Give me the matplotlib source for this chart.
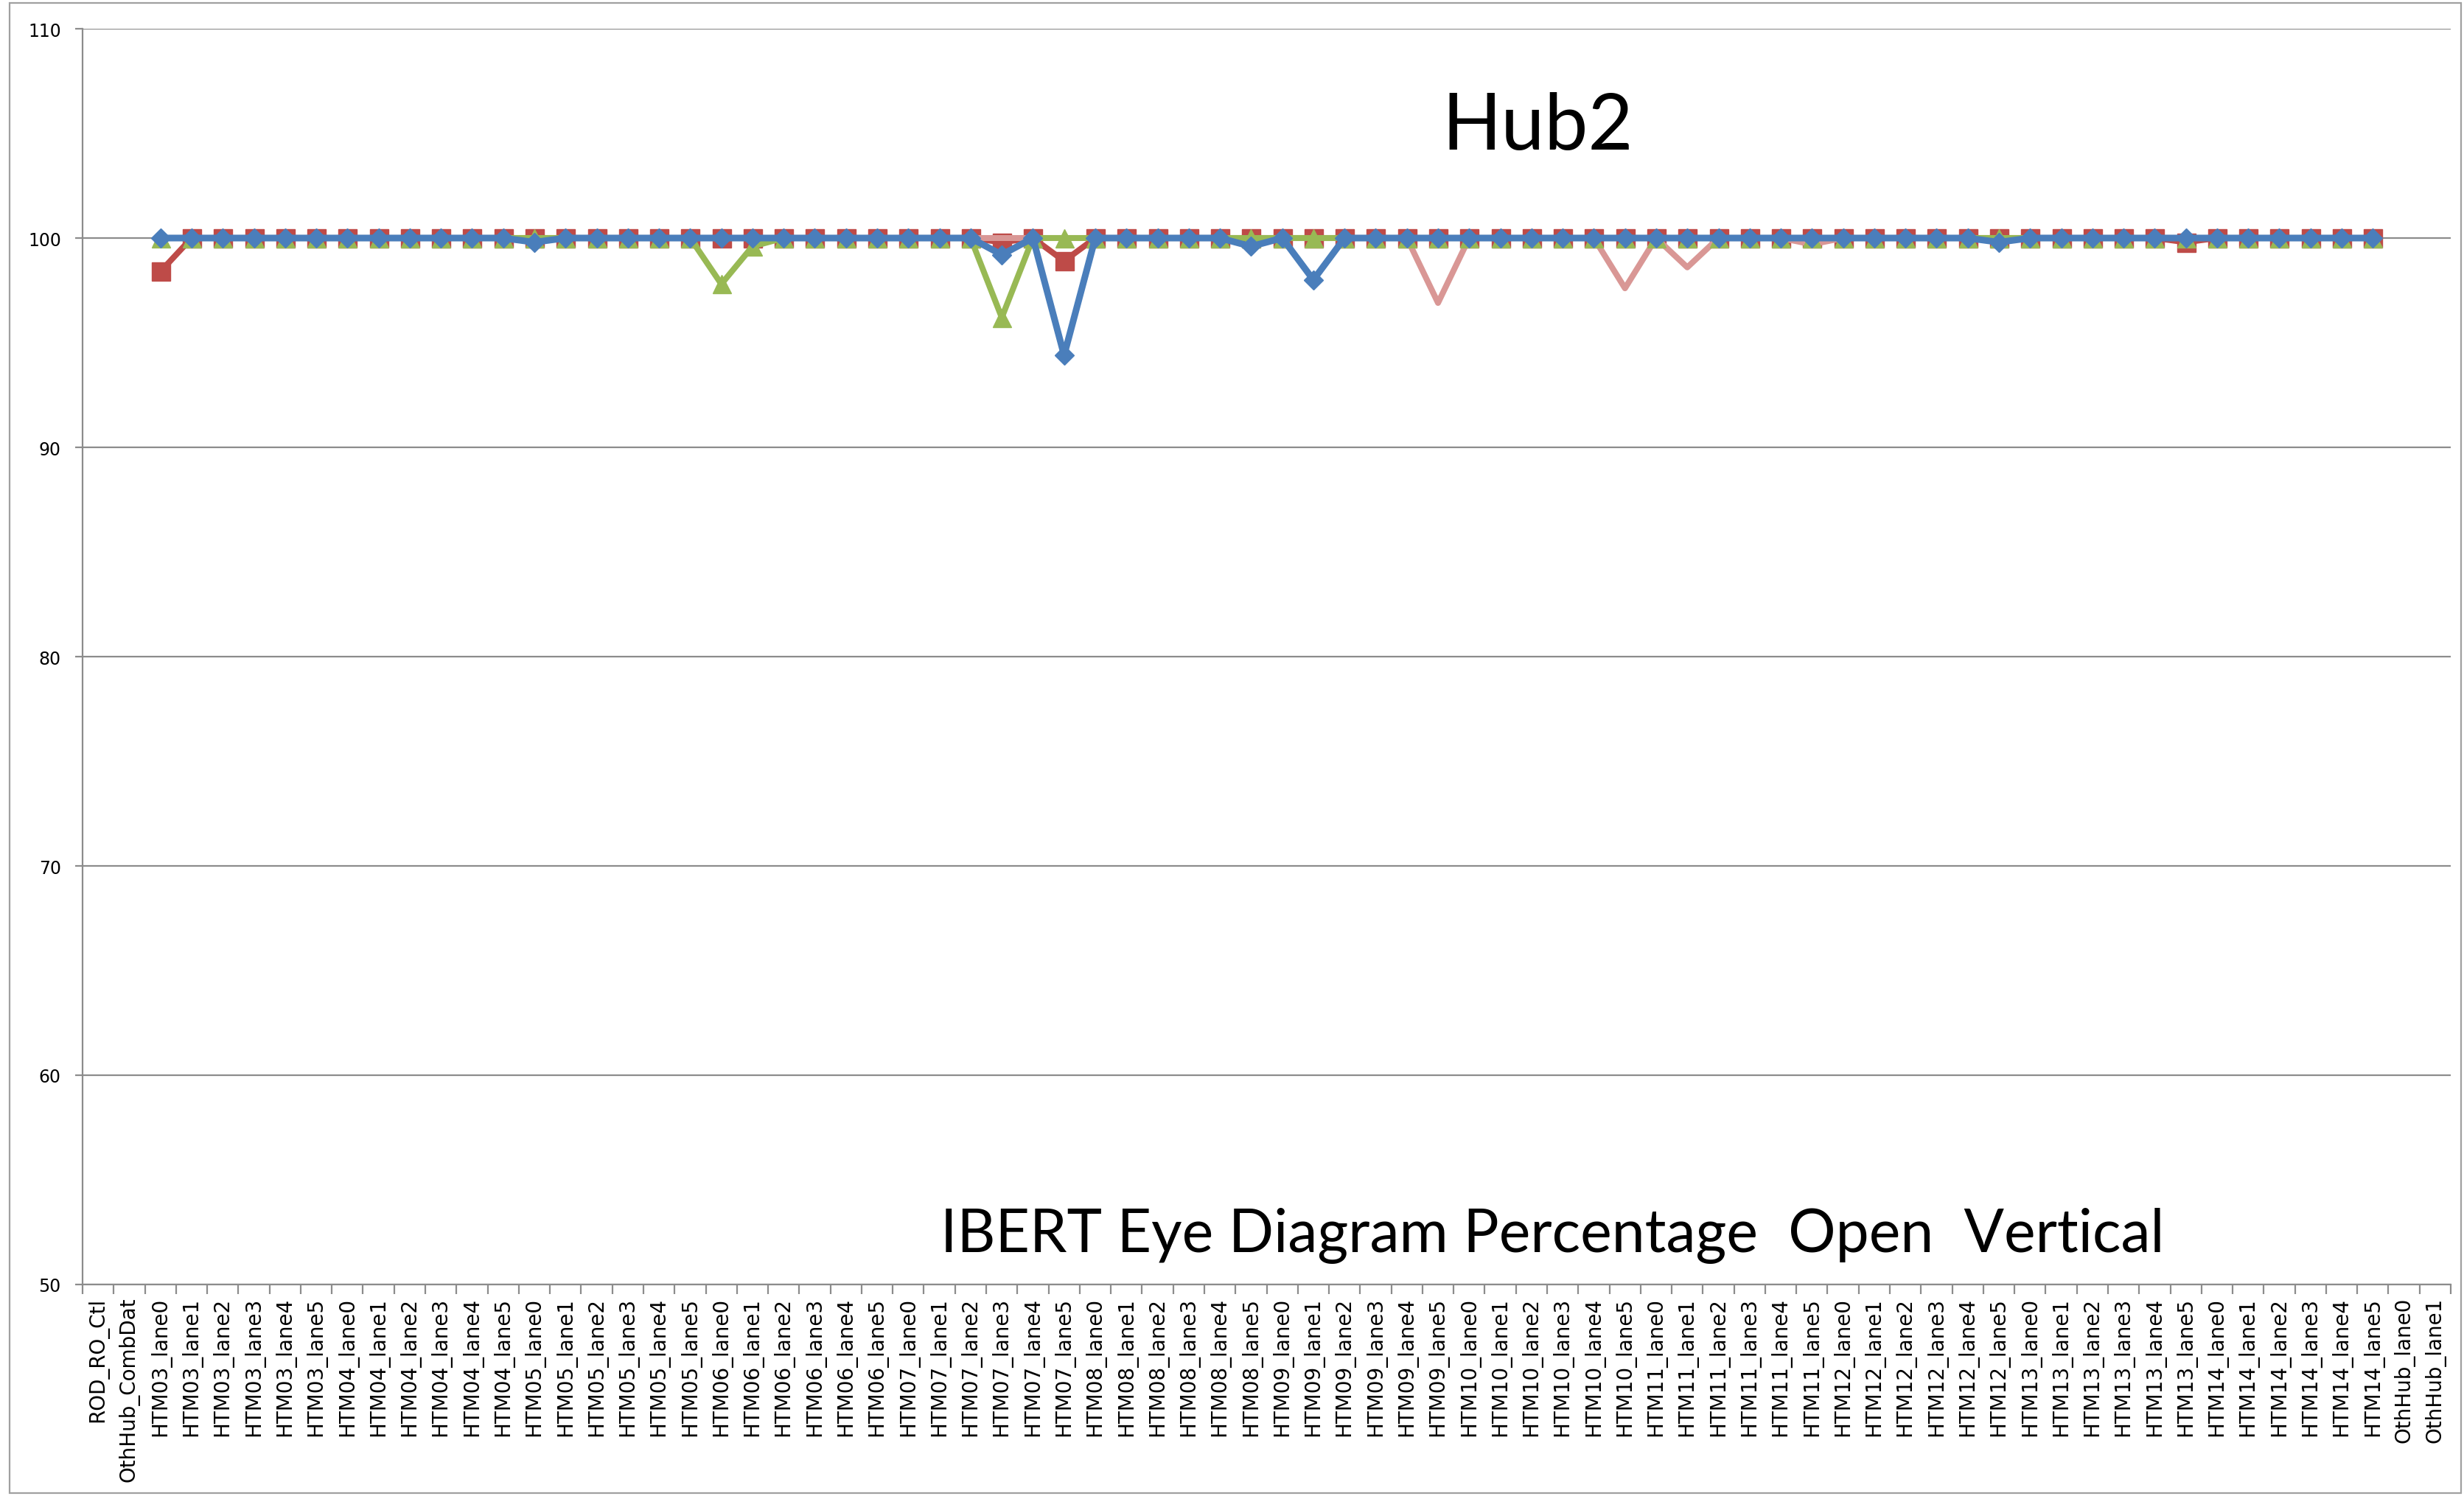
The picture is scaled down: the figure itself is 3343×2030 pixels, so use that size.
import numpy as np
import matplotlib.pyplot as plt
from matplotlib.patches import Rectangle

# category labels
modules = ["HTM03", "HTM04", "HTM05", "HTM06", "HTM07", "HTM08",
           "HTM09", "HTM10", "HTM11", "HTM12", "HTM13", "HTM14"]
lanes = ["lane0", "lane1", "lane2", "lane3", "lane4", "lane5"]
categories = (["ROD_RO_Ctl", "OthHub_CombDat"]
              + [m + "_" + l for m in modules for l in lanes]
              + ["OthHub_lane0", "OthHub_lane1"])

nan = np.nan
# one row per module (lane0..lane5), empty slots for the non-HTM categories
blue = [nan, nan,
        100, 100, 100, 100, 100, 100,
        100, 100, 100, 100, 100, 100,
        99.8, 100, 100, 100, 100, 100,
        100, 100, 100, 100, 100, 100,
        100, 100, 100, 99.2, 100, 94.4,
        100, 100, 100, 100, 100, 99.6,
        100, 98.0, 100, 100, 100, 100,
        100, 100, 100, 100, 100, 100,
        100, 100, 100, 100, 100, 100,
        100, 100, 100, 100, 100, 99.8,
        100, 100, 100, 100, 100, 100,
        100, 100, 100, 100, 100, 100,
        nan, nan]
red = [nan, nan,
       98.4, 100, 100, 100, 100, 100,
       100, 100, 100, 100, 100, 100,
       100, 100, 100, 100, 100, 100,
       100, 100, 100, 100, 100, 100,
       100, 100, 100, 99.8, 100, 98.9,
       100, 100, 100, 100, 100, 100,
       100, 100, 100, 100, 100, 100,
       100, 100, 100, 100, 100, 100,
       100, 100, 100, 100, 100, 100,
       100, 100, 100, 100, 100, 100,
       100, 100, 100, 100, 100, 99.8,
       100, 100, 100, 100, 100, 100,
       nan, nan]
green = [nan, nan,
         100, 100, 100, 100, 100, 100,
         100, 100, 100, 100, 100, 100,
         100, 100, 100, 100, 100, 100,
         97.8, 99.6, 100, 100, 100, 100,
         100, 100, 100, 96.2, 100, 100,
         100, 100, 100, 100, 100, 100,
         100, 100, 100, 100, 100, 100,
         100, 100, 100, 100, 100, 100,
         100, 100, 100, 100, 100, 100,
         100, 100, 100, 100, 100, 100,
         100, 100, 100, 100, 100, 100,
         100, 100, 100, 100, 100, 100,
         nan, nan]
pink = [nan, nan,
        100, 100, 100, 100, 100, 100,
        100, 100, 100, 100, 100, 100,
        100, 100, 100, 100, 100, 100,
        100, 100, 100, 100, 100, 100,
        100, 100, 100, 100, 100, 100,
        100, 100, 100, 100, 100, 100,
        100, 100, 100, 100, 100, 96.9,
        100, 100, 100, 100, 100, 97.6,
        100, 98.6, 100, 100, 100, 99.7,
        100, 100, 100, 100, 100, 100,
        100, 100, 100, 100, 100, 100,
        100, 100, 100, 100, 100, 100,
        nan, nan]

W, H = 3343, 2031
fig = plt.figure(figsize=(W / 100, H / 100), dpi=100)
ax = fig.add_axes([112 / W, 1 - 1744 / H, (3325 - 112) / W, (1744 - 40) / H])

x = np.arange(len(categories))
ax.plot(x, red, color="#BE4B48", lw=5.8, marker="s", ms=18, mec="#BE4B48", zorder=3)
ax.plot(x, pink, color="#D99795", lw=5.8, zorder=4)
ax.plot(x, green, color="#98B954", lw=5.8, marker="^", ms=18, mec="#98B954", zorder=5)
ax.plot(x, blue, color="#4A7EBB", lw=6.5, marker="D", ms=13.5, mec="#4A7EBB", zorder=6)

ax.set_xlim(-0.5, len(categories) - 0.5)
ax.set_ylim(50, 110)
ax.set_yticks(range(50, 111, 10))
ax.yaxis.grid(True, color="#8c8c8c", lw=1.6, zorder=0)
ax.set_axisbelow(True)

ax.set_xticks(np.arange(-0.5, len(categories), 1))
ax.set_xticklabels([])
ax.set_xticks(x, minor=True)
ax.set_xticklabels(categories, minor=True, rotation=90, fontsize=20)
ax.tick_params(axis="x", which="major", length=9.5, width=1.6, color="#8c8c8c", direction="out")
ax.tick_params(axis="x", which="minor", length=0, pad=12)
ax.tick_params(axis="y", length=7, width=1.6, color="#8c8c8c", pad=14, labelsize=17)

for s in ["top", "right"]:
    ax.spines[s].set_visible(False)
for s in ["left", "bottom"]:
    ax.spines[s].set_color("#8c8c8c")
    ax.spines[s].set_linewidth(1.6)

fig.text(2086 / W, 1 - 203 / H, "Hub2", ha="center", va="baseline", fontsize=76, family="Lato")
fig.text(2106 / W, 1 - 1699 / H, "IBERT Eye Diagram Percentage  Open  Vertical",
         ha="center", va="baseline", fontsize=58, family="Lato")

fig.patches.append(Rectangle((13 / W, 1 - 2027 / H), (3339 - 13) / W, (2027 - 5) / H,
                             transform=fig.transFigure, fill=False, ec="#a0a0a0", lw=1.6))

fig.savefig("out.png", dpi=100)
